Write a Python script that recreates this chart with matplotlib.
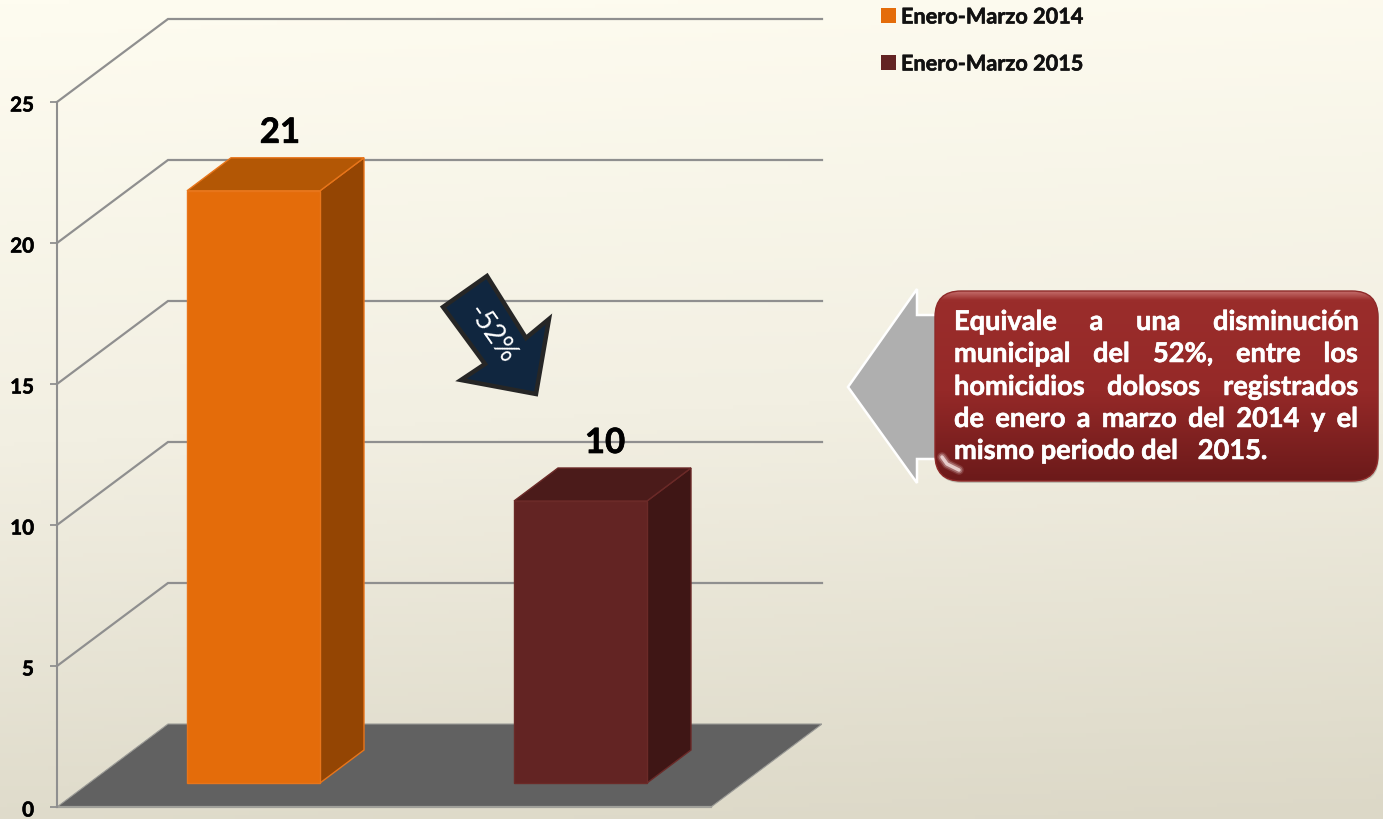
import numpy as np
import matplotlib
matplotlib.use('Agg')
import matplotlib.pyplot as plt
import matplotlib.patheffects as pe
from matplotlib.patches import Polygon, FancyBboxPatch, Rectangle
from matplotlib.colors import LinearSegmentedColormap

series_names = ['Enero-Marzo 2014', 'Enero-Marzo 2015']
values = [21, 10]
value_labels = ['21', '10']
y_ticks = [0, 5, 10, 15, 20, 25]
front_colors = ['#E46C0A', '#632423']
side_colors = ['#944503', '#3F1615']
top_colors = ['#B35705', '#4B1B1A']
edge_colors = ['#E8751A', '#6B2A28']
callout_lines = ['Equivale a una disminución', 'municipal del 52%, entre los',
                 'homicidios dolosos registrados', 'de enero a marzo del  2014 y el']
callout_last = 'mismo periodo del   2015.'
arrow_label = '-52%'

W, H = 1383, 819
plt.rcParams['font.family'] = ['Lato', 'DejaVu Sans']
fig = plt.figure(figsize=(W / 100, H / 100), dpi=100)


def heavy(color, w=0.5):
    return [pe.withStroke(linewidth=w, foreground=color)]


# background gradient
bg = fig.add_axes([0, 0, 1, 1], zorder=0)
bg.axis('off')
yy, xx = np.mgrid[0:1:200j, 0:1:200j]
t = np.clip(0.92 * yy + 0.08 * xx, 0, 1)
bgmap = LinearSegmentedColormap.from_list('bg', ['#FEFCF0', '#F2EFE2', '#DCD8C7'])
bg.imshow(t, cmap=bgmap, extent=(0, 1, 0, 1), aspect='auto', origin='upper', vmin=0, vmax=1)

# chart axes: x in pixels, y in values
PX = 28.2
Y0, XL, XR, YT = 807, 57, 822, 18
ax = fig.add_axes([XL / W, (H - Y0) / H, (XR - XL) / W, (Y0 - YT) / H], zorder=1)
ax.patch.set_alpha(0)
ax.set_xlim(XL, XR)
ax.set_ylim(0, (Y0 - YT) / PX)
for s in ['top', 'right', 'bottom']:
    ax.spines[s].set_visible(False)
ax.spines['left'].set_bounds(0, max(y_ticks))
ax.spines['left'].set_color('#8F8F8F')
ax.spines['left'].set_linewidth(1.5)
ax.set_xticks([])
ax.set_yticks(y_ticks)
ax.set_yticklabels([])
ax.tick_params(axis='y', length=5, width=1.3, color='#8F8F8F')
for v in y_ticks:
    ax.annotate(str(v), xy=(XL, v), xytext=(-23 * 0.72, -3.5 * 0.72), textcoords='offset points',
                ha='right', va='center', fontsize=14.8, fontweight='bold', color='black',
                annotation_clip=False, path_effects=heavy('black', 0.4))

DX, DY = 111, 83 / PX
grid_c = '#8F8F8F'
# floor
ax.add_patch(Polygon([(XL, 0), (XL + DX, DY), (XR, DY), (XR - DX, 0)], closed=True,
                     fc='#616161', ec='#9A9A96', lw=0.8, zorder=1))
ax.plot([XL, XR - DX], [0, 0], color='#A0A09A', lw=1.6, zorder=1.1, clip_on=False)
# walls
for v in y_ticks[1:]:
    ax.plot([XL, XL + DX, XR], [v, v + DY, v + DY], color=grid_c, lw=1.6, zorder=1,
            solid_joinstyle='miter', clip_on=False)

# bars
BASE = 24 / PX
BW = 133
LEFTS = [187, 514]
dx, dy = 44, 33 / PX
label_x = [280, 605]
for i, v in enumerate(values):
    l = LEFTS[i]
    ax.bar(l, v, width=BW, bottom=BASE, align='edge', color=front_colors[i],
           edgecolor=edge_colors[i], lw=1, zorder=3)
    top = BASE + v
    ax.add_patch(Polygon([(l + BW, BASE), (l + BW + dx, BASE + dy), (l + BW + dx, top + dy), (l + BW, top)],
                         closed=True, fc=side_colors[i], ec=edge_colors[i], lw=1, zorder=2.9))
    ax.add_patch(Polygon([(l, top), (l + dx, top + dy), (l + BW + dx, top + dy), (l + BW, top)],
                         closed=True, fc=top_colors[i], ec=edge_colors[i], lw=1, zorder=2.9))
    ax.text(label_x[i], top + 58 / PX, value_labels[i], ha='center', va='center', fontsize=25,
            fontweight='bold', color='black', zorder=5, path_effects=heavy('black', 0.5))

# overlay in pixel coordinates
ov = fig.add_axes([0, 0, 1, 1], zorder=2)
ov.patch.set_alpha(0)
ov.axis('off')
ov.set_xlim(0, W)
ov.set_ylim(H, 0)

# legend
for name, c, y in zip(series_names, front_colors, [15, 62]):
    ov.add_patch(Rectangle((881, y - 7.5), 15, 15, fc=c, ec='none'))
    ov.text(901, y + 2, name, ha='left', va='center', fontsize=15.6, fontweight='bold',
            color='#111111', path_effects=heavy('#111111', 0.4))

# down arrow
ov.add_patch(Polygon([(487, 276), (443, 307), (485, 364), (461, 380), (536, 394), (549, 319), (526, 338)],
                     closed=True, fc='#10263F', ec='#262626', lw=3.2, joinstyle='miter'))
ov.text(491, 334, arrow_label, rotation=-55, rotation_mode='anchor', ha='center', va='center',
        fontsize=20, color='white')

# left-pointing arrow
ov.add_patch(Polygon([(848, 387), (917, 289), (917, 315), (945, 315), (945, 459), (917, 459), (917, 483)],
                     closed=True, fc='#AFAFAF', ec='#FFFFFF', lw=1.8, joinstyle='miter', zorder=2))

# callout
bx, by, bw, bh, r = 935, 291, 443, 190, 26
ov.add_patch(FancyBboxPatch((bx + 1, by + 2), bw, bh, boxstyle=f'round,pad=0,rounding_size={r}',
                            fc='#8A8A80', ec='none', alpha=0.45, zorder=2.5))
ov.add_patch(FancyBboxPatch((bx, by), bw, bh, boxstyle=f'round,pad=0,rounding_size={r}',
                            fc='none', ec='#8E2A29', lw=1, zorder=3.2))
cm = LinearSegmentedColormap.from_list('c', ['#C26A68', '#9A2D2B', '#952928', '#6C1A1A'])
g = np.concatenate([np.linspace(0, 0.33, 10), np.linspace(0.33, 1, 190)])[:, None]
im = ov.imshow(g, cmap=cm, extent=(bx, bx + bw, by + bh, by), aspect='auto', origin='upper', vmin=0, vmax=1, zorder=3)
im.set_clip_path(FancyBboxPatch((bx, by), bw, bh, boxstyle=f'round,pad=0,rounding_size={r}',
                                transform=ov.transData))
ov.set_xlim(0, W)
ov.set_ylim(H, 0)
# soft glints on the lower-left corner
for lw, a in [(7, 0.15), (5, 0.3), (2.5, 0.8)]:
    ov.plot([bx + 7, bx + 12, bx + 24], [by + bh - 24, by + bh - 17, by + bh - 11], color='#F6E4E2', lw=lw,
            alpha=a, zorder=3.1, solid_capstyle='round')

# justified text
TXL, TXR = 954, 1358
baselines = [330, 362, 395, 427]
FS = 19.6
fig.canvas.draw()
rend = fig.canvas.get_renderer()
for line, yb in zip(callout_lines, baselines):
    words = line.split()
    arts = [ov.text(0, yb, w, fontsize=FS, fontweight='bold', color='white', va='baseline', zorder=4,
                    path_effects=heavy('white', 0.4)) for w in words]
    widths = [a.get_window_extent(rend).width for a in arts]
    gap = (TXR - TXL - sum(widths)) / (len(words) - 1)
    x = TXL
    for a, wd in zip(arts, widths):
        a.set_x(x)
        x += wd + gap
ov.text(TXL, 459, callout_last, fontsize=FS, fontweight='bold', color='white', va='baseline', zorder=4,
        path_effects=heavy('white', 0.4))

fig.savefig('out.png', dpi=100)
